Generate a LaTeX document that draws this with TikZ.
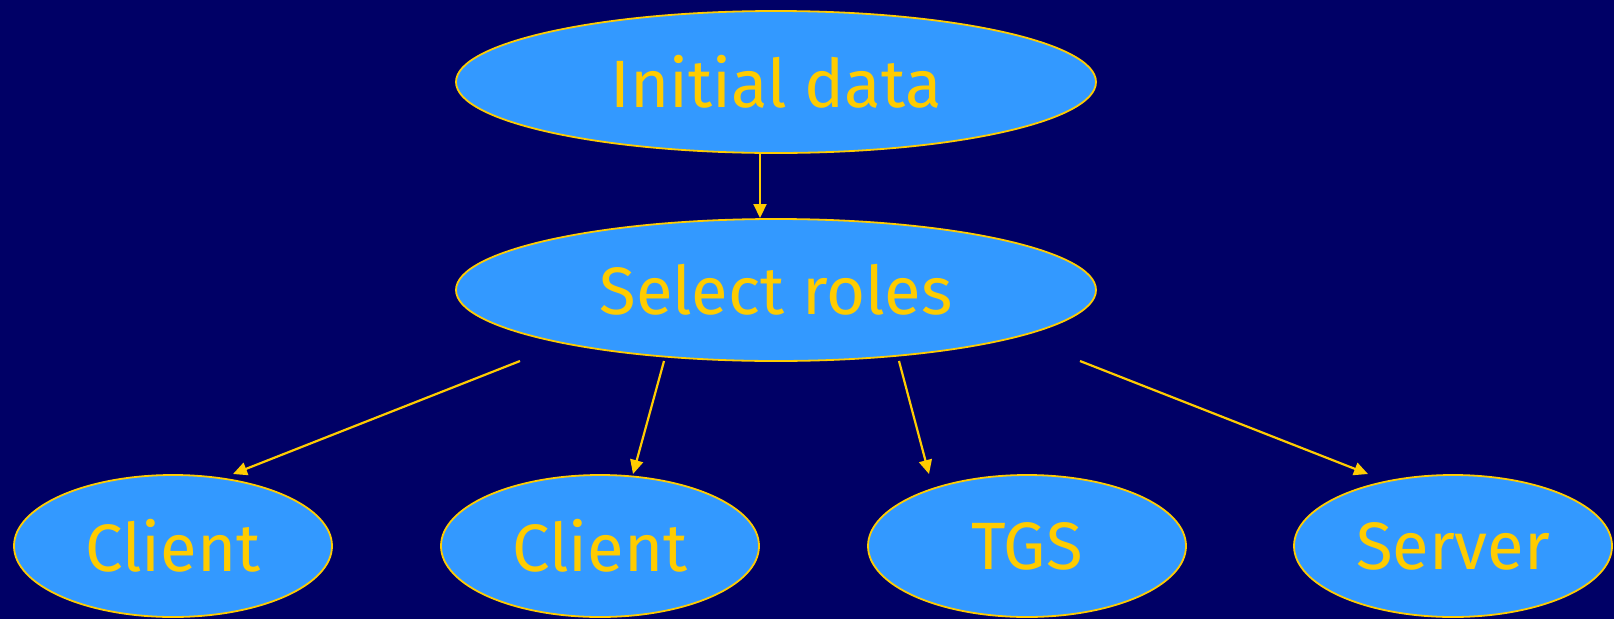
\documentclass[tikz,border=0pt]{standalone}
\usepackage{fontspec}
\setmainfont{Fira Sans}
\usetikzlibrary{shapes.geometric,arrows.meta}
\definecolor{bgnavy}{HTML}{000066}
\definecolor{bluefill}{HTML}{3399FF}
\definecolor{gold}{HTML}{FFCC00}
\tikzset{
  oval/.style={ellipse, draw=gold, fill=bluefill, line width=1.8pt, inner sep=0pt,
    text=gold, font=\fontsize{67}{72}\selectfont},
  bigoval/.style={oval, minimum width=640pt, minimum height=142pt},
  smalloval/.style={oval, minimum width=318pt, minimum height=142pt},
  arr/.style={draw=gold, line width=2.2pt, -{Triangle[length=14pt,width=13pt]}}
}
\begin{document}
\begin{tikzpicture}[x=1pt,y=-1pt]
\fill[bgnavy] (0,0) rectangle (1614,619);
\useasboundingbox (0,0) rectangle (1614,619);
\node[bigoval] (init) at (776,82) {Initial data};
\node[bigoval] (sel) at (776,290) {Select roles};
\node[smalloval] (c1) at (173,546) {Client};
\node[smalloval] (c2) at (600,546) {Client};
\node[smalloval] (tgs) at (1027,546) {TGS};
\node[smalloval] (srv) at (1453,546) {Server};
\coordinate (a0) at (760,154);
\coordinate (b0) at (760,218);
\coordinate (s1) at (520,361);
\coordinate (s2) at (664,361);
\coordinate (s3) at (899,361);
\coordinate (s4) at (1080,361);
\coordinate (e1) at (233,474);
\coordinate (e2) at (633,474);
\coordinate (e3) at (929,474);
\coordinate (e4) at (1368,474);
\draw[arr] (a0) -- (b0);
\draw[arr] (s1) -- (e1);
\draw[arr] (s2) -- (e2);
\draw[arr] (s3) -- (e3);
\draw[arr] (s4) -- (e4);
\end{tikzpicture}
\end{document}
